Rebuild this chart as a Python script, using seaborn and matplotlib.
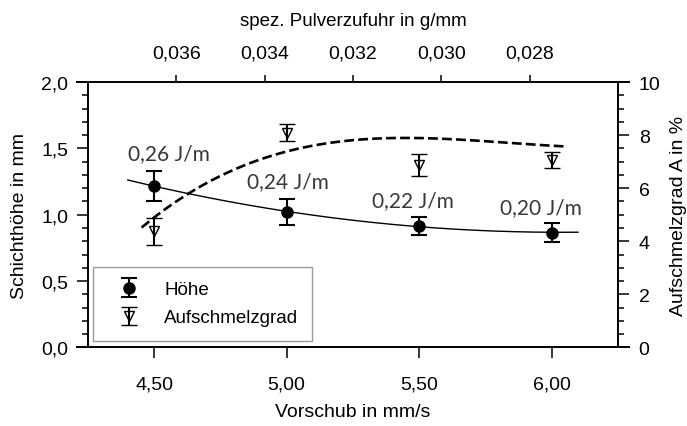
import numpy as np
import pandas as pd
import seaborn as sns
import matplotlib
matplotlib.use("Agg")
import matplotlib.pyplot as plt
from matplotlib.ticker import MultipleLocator, FuncFormatter

# ---------------- data ----------------
vorschub = [4.5, 5.0, 5.5, 6.0]
hoehe = [1.217, 1.020, 0.915, 0.866]
hoehe_err = [0.11, 0.10, 0.07, 0.07]
aufschmelz = [4.37, 8.09, 6.87, 7.06]
aufschmelz_err = [0.52, 0.33, 0.41, 0.31]
energy_labels = ["0,26 J/m", "0,24 J/m", "0,22 J/m", "0,20 J/m"]
# dashed trend curve of Aufschmelzgrad
trend_A_x = [4.453, 4.749, 4.938, 5.114, 5.277, 5.541, 5.806, 6.054]
trend_A_y = [4.53, 6.41, 7.22, 7.66, 7.85, 7.83, 7.75, 7.57]
top_ticks = [0.036, 0.034, 0.032, 0.030, 0.028]

sns.set_theme(style="ticks")
plt.rcParams['font.family'] = ['Liberation Sans', 'DejaVu Sans']
plt.rcParams.update({"text.color": "black", "axes.labelcolor": "black",
                     "xtick.color": "black", "ytick.color": "black"})

fig = plt.figure(figsize=(6.87, 4.27), dpi=100)
ax = fig.add_axes([0.1278, 0.184, 0.7718, 0.6216])
ax2 = ax.twinx()
ax3 = ax.twiny()

lw_axis = 1.1
fs = 14
fs_tick = 14

# fits
df_h = pd.DataFrame({"x": vorschub, "y": hoehe})
coef_h = np.polyfit(df_h.x, df_h.y, 2)
xh = np.linspace(4.40, 6.10, 200)
sns.lineplot(x=xh, y=np.polyval(coef_h, xh), ax=ax, color="black", lw=1.0)

coef_a = np.polyfit(trend_A_x, trend_A_y, 3)
xa = np.linspace(min(trend_A_x), max(trend_A_x), 200)
sns.lineplot(x=xa, y=np.polyval(coef_a, xa), ax=ax2, color="black", lw=1.9,
             dashes=(4, 2.5), linestyle="--")

# data with error bars
eb1 = ax.errorbar(vorschub, hoehe, yerr=hoehe_err, fmt="o", color="black",
                  ms=8, capsize=5.8, elinewidth=1.5, capthick=1.5, label="Höhe", zorder=5)
eb2 = ax2.errorbar(vorschub, aufschmelz, yerr=aufschmelz_err, fmt="v", color="black",
                   mfc="none", mec="black", ms=7.5, mew=1.0, capsize=5.8, elinewidth=1.5,
                   capthick=1.5, label="Aufschmelzgrad", zorder=5)

# energy annotations
label_dx = [0.056, 0.004, -0.025, -0.04]
label_dy = [0.247, 0.235, 0.194, 0.191]
for xv, yv, t, dx, dy in zip(vorschub, hoehe, energy_labels, label_dx, label_dy):
    ax.text(xv + dx, yv + dy, t, ha="center", va="center", fontsize=15,
            family=["Lato", "DejaVu Sans"], color="#383838", zorder=6)

comma = lambda fmt: FuncFormatter(lambda v, p: (fmt % v).replace(".", ","))

# left axis
ax.set_xlim(4.25, 6.25)
ax.set_ylim(0, 2.0)
ax.yaxis.set_major_locator(MultipleLocator(0.5))
ax.yaxis.set_minor_locator(MultipleLocator(0.1))
ax.yaxis.set_major_formatter(comma("%.1f"))
ax.xaxis.set_major_locator(MultipleLocator(0.5))
ax.xaxis.set_major_formatter(comma("%.2f"))
ax.set_ylabel("Schichthöhe in mm", fontsize=fs, labelpad=10)
ax.set_xlabel("Vorschub in mm/s", fontsize=fs, labelpad=8)
ax.tick_params(axis="y", which="major", direction="out", length=7.9, width=lw_axis,
               labelsize=fs_tick, pad=6)
ax.tick_params(axis="y", which="minor", direction="out", length=4.3, width=lw_axis)
ax.tick_params(axis="x", which="major", direction="out", length=8, width=lw_axis,
               labelsize=fs_tick, pad=12)

# right axis
ax2.set_ylim(0, 10)
ax2.yaxis.set_major_locator(MultipleLocator(2))
ax2.yaxis.set_minor_locator(MultipleLocator(0.5))
ax2.set_ylabel("Aufschmelzgrad A in %", fontsize=fs, labelpad=7)
ax2.tick_params(axis="y", which="major", direction="out", length=7.9, width=lw_axis,
                labelsize=fs_tick, pad=7)
ax2.tick_params(axis="y", which="minor", direction="out", length=4.3, width=lw_axis)

# top axis
ax3.set_xlim(0.038, 0.026)
ax3.set_xticks(top_ticks)
ax3.xaxis.set_major_formatter(comma("%.3f"))
ax3.set_xlabel("spez. Pulverzufuhr in g/mm", fontsize=13.5, labelpad=14)
ax3.tick_params(axis="x", which="major", direction="out", length=5, width=lw_axis,
                labelsize=fs_tick, pad=10)

# spines
for a in (ax, ax2, ax3):
    for s in a.spines.values():
        s.set_visible(False)
ax.spines["left"].set_visible(True)
ax.spines["bottom"].set_visible(True)
ax2.spines["right"].set_visible(True)
ax3.spines["top"].set_visible(True)
for a, k in ((ax, "left"), (ax, "bottom"), (ax2, "right"), (ax3, "top")):
    a.spines[k].set_linewidth(1.4)
    a.spines[k].set_color("black")
ext = 0.0415
ax.spines["bottom"].set_bounds(4.25 - ext, 6.25 + ext)
ax3.spines["top"].set_bounds(0.038 + ext * 0.006, 0.026 - ext * 0.006)

leg = ax3.legend(handles=[eb1, eb2], labels=["Höhe", "Aufschmelzgrad"],
                 loc="lower left", bbox_to_anchor=(0.0098, 0.026),
                 frameon=True, fancybox=False, edgecolor="#808080", fontsize=13.5,
                 borderpad=0.75, labelspacing=0.6, handletextpad=0.7,
                 handlelength=2.35, borderaxespad=0)
leg.get_frame().set_linewidth(1.0)
leg.set_zorder(10)

fig.savefig("out.png", dpi=100)
